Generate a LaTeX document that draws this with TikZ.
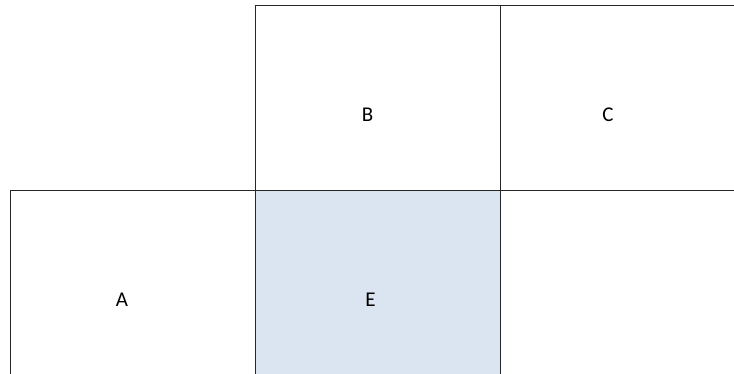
\documentclass[tikz,border=0pt]{standalone}
\usepackage{fontspec}
\setmainfont{Carlito}
\usepackage{xcolor}
\usetikzlibrary{positioning}
\definecolor{cellblue}{RGB}{218,229,241}
\tikzset{
    cell/.style={draw=black!85, line width=1.3pt, rectangle, anchor=north west,
        minimum width=245pt, minimum height=185pt, inner sep=0pt},
    celltext/.style={font=\fontsize{21}{25}\selectfont, inner sep=0pt}
}

\begin{document}
\begin{tikzpicture}[x=1pt, y=-1pt]
            \useasboundingbox (0,0) rectangle (734,374);
            \clip (0,0) rectangle (734,374);
            % upper row
            \node[cell] (boxB) at (255,5) {};
            \node[cell] (boxC) at (500,5) {};
            % lower row
            \node[cell, minimum height=200pt] (boxA) at (10,190) {};
            \node[cell, minimum height=200pt, fill=cellblue] (boxE) at (255,190) {};
            % labels
            \node[celltext] (labB) at (367.5,114.5) {B};
            \node[celltext] (labC) at (608,115) {C};
            \node[celltext] (labA) at (122,299.5) {A};
            \node[celltext] (labE) at (370.5,299.5) {E};
        \end{tikzpicture}
\end{document}
